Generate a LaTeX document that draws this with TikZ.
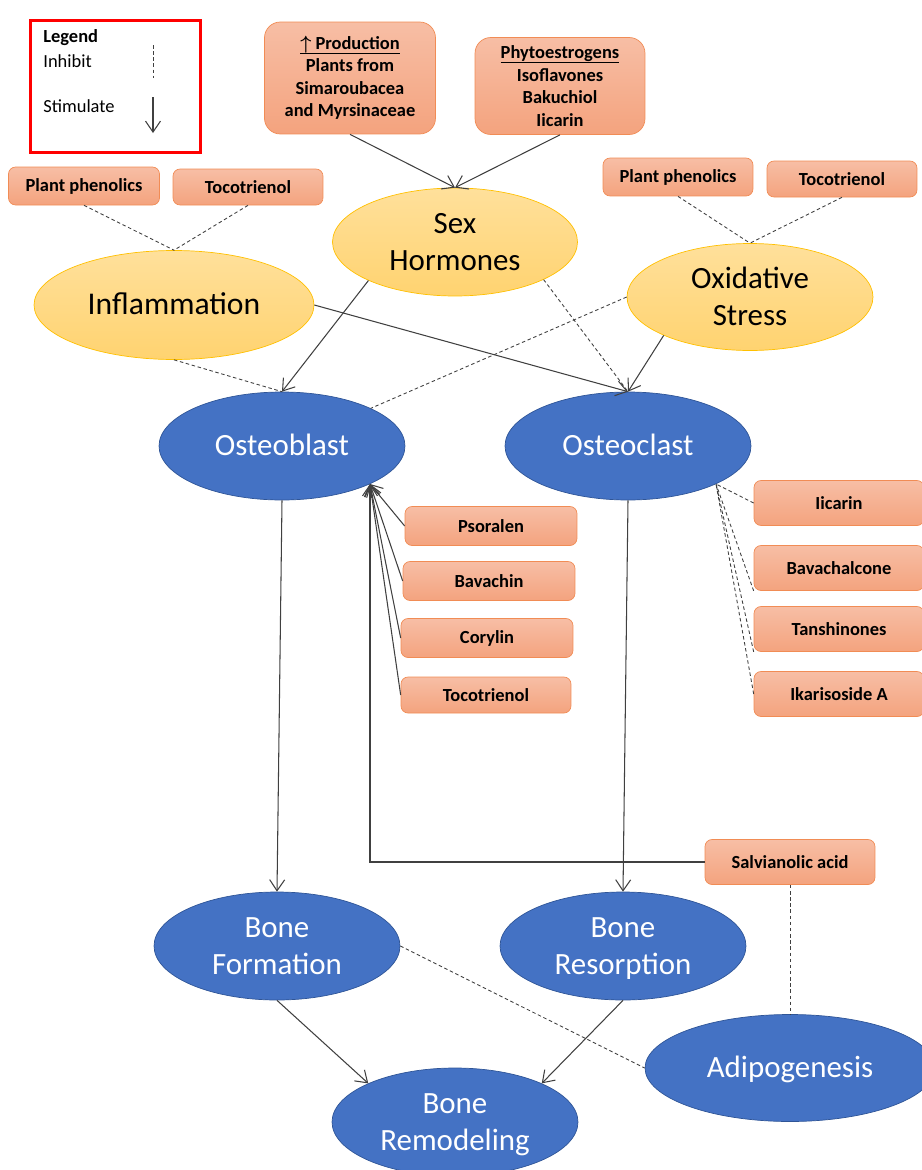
\documentclass[tikz,border=0pt]{standalone}
\usepackage{fontspec}
\setmainfont{Carlito}
\usetikzlibrary{shapes.geometric,arrows.meta}

\definecolor{boxTop}{RGB}{247,190,165}
\definecolor{boxBot}{RGB}{244,163,126}
\definecolor{boxLine}{RGB}{241,140,85}
\definecolor{sunTop}{RGB}{255,224,155}
\definecolor{sunBot}{RGB}{255,211,112}
\definecolor{sunLine}{RGB}{255,192,0}
\definecolor{cellFill}{RGB}{68,114,196}
\definecolor{cellLine}{RGB}{47,85,151}
\definecolor{linkGray}{RGB}{64,64,64}

% underline that sits just under the descenders
\newcommand{\headline}[1]{\setbox0\hbox{#1}\rlap{\rule[-2.6pt]{\wd0}{0.5pt}}\box0}
% strut centred on the capitals of the big labels
\newcommand{\capstrut}{\rule[-5pt]{0pt}{21pt}}

\tikzset{
  herbbox/.style={draw=boxLine, top color=boxTop, bottom color=boxBot, rounded corners=4pt,
    font=\bfseries\fontsize{10.5}{12.8}\selectfont, align=center, inner sep=1pt,
    minimum width=3.0cm, minimum height=0.76cm},
  bigherb/.style={herbbox, rounded corners=9pt},
  factor/.style={ellipse, draw=sunLine, top color=sunTop, bottom color=sunBot, align=center,
    font=\fontsize{17.6}{21}\selectfont, inner sep=0pt, minimum width=4.9cm, minimum height=2.16cm},
  cell/.style={ellipse, draw=cellLine, fill=cellFill, text=white, align=center,
    font=\fontsize{17.6}{21}\selectfont, inner sep=0pt, minimum width=4.92cm, minimum height=2.16cm},
  stim/.style={draw=linkGray, line width=0.6pt, -{Straight Barb[length=2.2mm,width=3mm]}},
  inhib/.style={draw=linkGray, line width=0.5pt, dash pattern=on 2pt off 1.5pt},
}

\begin{document}
\begin{tikzpicture}[x={(0.02cm,0cm)}, y={(0cm,-0.02cm)}]
  \useasboundingbox (0,0) rectangle (921,1170);

  %% legend
  \node[draw=red, line width=1.7pt, minimum width=3.42cm, minimum height=2.66cm] (legend) at (115.5,86.5) {};
  \node[anchor=west, inner sep=0pt, font=\bfseries\fontsize{10.5}{12.8}\selectfont] (legendT) at (43,38) {Legend};
  \node[anchor=west, inner sep=0pt, font=\fontsize{10.5}{12.8}\selectfont] (inhibT) at (43,61) {Inhibit};
  \node[anchor=west, inner sep=0pt, font=\fontsize{10.5}{12.8}\selectfont] (stimT) at (43,106) {Stimulate};
  \coordinate (inhibA) at (153,45);
  \coordinate (inhibB) at (153,78);
  \coordinate (stimA) at (153,97);
  \coordinate (stimB) at (153,133);
  \draw[inhib] (inhibA) -- (inhibB);
  \draw[stim] (stimA) -- (stimB);

  %% plant sources
  \node[bigherb, minimum width=3.42cm, minimum height=2.24cm] (prod) at (350,78)
    {\headline{{\boldmath$\uparrow$} Production}\\Plants from\\Simaroubacea\\and Myrsinaceae};
  \node[bigherb, minimum width=3.4cm, minimum height=1.94cm] (phyto) at (560,86)
    {\headline{Phytoestrogens}\\Isoflavones\\Bakuchiol\\Iicarin};
  \node[herbbox, minimum width=3.02cm] (phenL) at (84,186) {Plant phenolics};
  \node[herbbox, minimum height=0.72cm] (tocoL) at (248,187) {Tocotrienol};
  \node[herbbox] (phenR) at (678,177) {Plant phenolics};
  \node[herbbox, minimum height=0.72cm] (tocoR) at (842,179) {Tocotrienol};

  %% factors
  \node[factor] (sex) at (455,242) {Sex\capstrut\\Hormones\capstrut};
  \node[factor, minimum width=5.6cm, minimum height=2.18cm, font=\fontsize{18}{21}\selectfont] (infl) at (174,305) {Inflammation\capstrut};
  \node[factor, minimum width=4.92cm, minimum height=2.14cm] (oxi) at (750,297) {Oxidative\capstrut\\Stress\capstrut};

  %% cells
  \node[cell] (ob) at (282,446) {Osteoblast\capstrut};
  \node[cell] (oc) at (628,446) {Osteoclast\capstrut};
  \coordinate (obHit) at (370,484);
  \coordinate (ocHit) at (716,484);

  %% compounds around the cells
  \node[herbbox, minimum width=3.44cm, minimum height=0.78cm] (psor) at (491,526) {Psoralen};
  \node[herbbox, minimum width=3.44cm, minimum height=0.78cm] (bava) at (489,581) {Bavachin};
  \node[herbbox, minimum width=3.44cm, minimum height=0.78cm] (cory) at (487,638) {Corylin};
  \node[herbbox, minimum width=3.4cm, minimum height=0.72cm] (tocoM) at (486,695) {Tocotrienol};
  \node[herbbox, minimum width=3.4cm, minimum height=0.9cm] (iica) at (839,503) {Iicarin};
  \node[herbbox, minimum width=3.4cm, minimum height=0.9cm] (bchal) at (839,568) {Bavachalcone};
  \node[herbbox, minimum width=3.4cm, minimum height=0.9cm] (tansh) at (839,629) {Tanshinones};
  \node[herbbox, minimum width=3.4cm, minimum height=0.9cm] (ikar) at (839,694) {Ikarisoside A};
  \node[herbbox, minimum width=3.4cm, minimum height=0.9cm] (salv) at (790,862) {Salvianolic acid};

  %% bone outcomes
  \node[cell] (bform) at (277,946) {Bone\capstrut\\Formation\capstrut};
  \node[cell] (bres) at (623,946) {Bone\capstrut\\Resorption\capstrut};
  \node[cell] (brem) at (455,1122) {Bone\capstrut\\Remodeling\capstrut};
  \node[cell, minimum width=5.8cm, minimum height=2.14cm] (adi) at (790,1068) {Adipogenesis\capstrut};

  %% stimulate
  \draw[stim] (prod.south) -- (sex.north);
  \draw[stim] (phyto.south) -- (sex.north);
  \draw[stim] (sex.204) -- (ob.north);
  \draw[stim] (infl.east) -- (oc.north);
  \draw[stim] (oxi.204) -- (oc.north);
  \draw[stim] (ob.south) -- (bform.north);
  \draw[stim] (oc.south) -- (bres.north);
  \draw[stim] (psor.west) -- (obHit);
  \draw[stim] (bava.west) -- (obHit);
  \draw[stim] (cory.west) -- (obHit);
  \draw[stim] (tocoM.west) -- (obHit);
  \draw[stim] (salv.west) -| (obHit);
  \draw[stim] (bform.south) -- (brem.156);
  \draw[stim] (bres.south) -- (brem.24);

  %% inhibit
  \draw[inhib] (phenL.south) -- (infl.north);
  \draw[inhib] (tocoL.south) -- (infl.north);
  \draw[inhib] (phenR.south) -- (oxi.north);
  \draw[inhib] (tocoR.south) -- (oxi.north);
  \draw[inhib] (infl.south) -- (ob.north);
  \draw[inhib] (sex.-23) -- (oc.north);
  \draw[inhib] (oxi.west) -- (ob.23);
  \draw[inhib] (iica.west) -- (ocHit);
  \draw[inhib] (bchal.south west) -- (ocHit);
  \draw[inhib] (tansh.south west) -- (ocHit);
  \draw[inhib] (ikar.west) -- (ocHit);
  \draw[inhib] (salv.south) -- (adi.north);
  \draw[inhib] (bform.east) -- (adi.west);
\end{tikzpicture}
\end{document}
